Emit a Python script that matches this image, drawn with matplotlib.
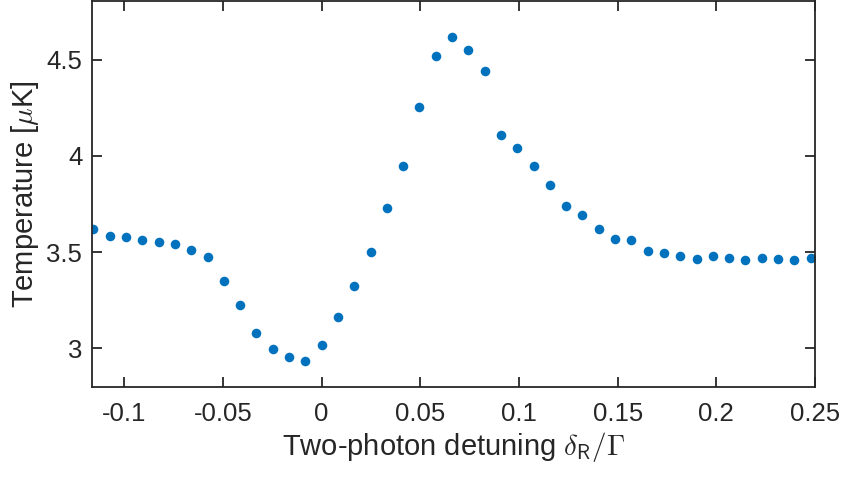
import matplotlib
matplotlib.use("Agg")
import matplotlib.pyplot as plt
import numpy as np

# Data
step = 0.00826
k = np.arange(-14, 31)
detuning = k * step
temperature = [3.620, 3.583, 3.578, 3.566, 3.554, 3.543, 3.514, 3.473, 3.350, 3.225,
               3.078, 2.998, 2.955, 2.935, 3.019, 3.163, 3.323, 3.502, 3.732, 3.946,
               4.256, 4.519, 4.620, 4.550, 4.443, 4.108, 4.044, 3.947, 3.849, 3.740,
               3.692, 3.623, 3.568, 3.563, 3.509, 3.495, 3.481, 3.464, 3.478, 3.471,
               3.459, 3.471, 3.464, 3.462, 3.471]
xticks = [-0.1, -0.05, 0, 0.05, 0.1, 0.15, 0.2, 0.25]
xticklabels = ["-0.1", "-0.05", "0", "0.05", "0.1", "0.15", "0.2", "0.25"]
yticks = [3, 3.5, 4, 4.5]
yticklabels = ["3", "3.5", "4", "4.5"]

plt.rcParams['font.family'] = ['Liberation Sans', 'DejaVu Sans']
plt.rcParams['mathtext.fontset'] = 'cm'

fig = plt.figure(figsize=(8.48, 4.83), dpi=100)
ax = fig.add_axes([92/848, 96/483, (815-92)/848, (386)/483])

ax.plot(detuning, temperature, 'o', color='#0072BD', markersize=6.9, markeredgewidth=0)

ax.set_xlim(-0.1164, 0.25)
ax.set_ylim(2.8, 4.805)
ax.set_xticks(xticks)
ax.set_xticklabels(xticklabels)
ax.set_yticks(yticks)
ax.set_yticklabels(yticklabels)

dark = '#262626'
for s in ax.spines.values():
    s.set_color(dark)
    s.set_linewidth(1.3)
ax.tick_params(direction='in', length=7, width=1.3, colors=dark, labelsize=18.5,
               top=True, right=True)
ax.tick_params(axis='x', pad=11)
ax.tick_params(axis='y', pad=7)
for lab in ax.get_xticklabels() + ax.get_yticklabels():
    lab.set_color(dark)

ax.set_xlabel(r'Two-photon detuning $\delta_{\mathsf{R}}/\Gamma$', fontsize=21, color=dark, labelpad=3)
ax.set_ylabel(r'Temperature [$\mu$K]', fontsize=21, color=dark, labelpad=4)

fig.savefig('out.png', dpi=100)
